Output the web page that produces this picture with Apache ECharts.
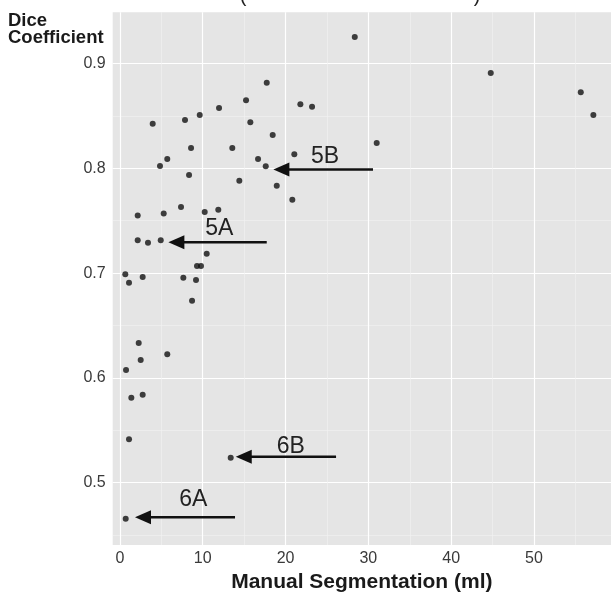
<!DOCTYPE html>
<html>
<head>
<meta charset="utf-8">
<script src="https://cdn.jsdelivr.net/npm/echarts@6/dist/echarts.min.js"></script>
<style>
  html, body { margin: 0; padding: 0; background: #fff; }
  #chart { width: 611px; height: 596px; }
</style>
</head>
<body>
<div id="chart"></div>
<script>
// volumes (ml) from manual segmentation, and the dice coefficient for each
const volume = [
  17.73, 15.23, 11.97, 9.64, 7.86, 3.96, 15.75, 18.45, 8.59, 13.57,
  5.72, 4.84, 16.68, 17.61, 21.06, 8.35, 14.42, 18.94, 20.82, 2.15,
  5.29, 7.38, 10.24, 11.88, 2.15, 3.39, 4.93, 10.48, 28.36, 21.79,
  23.2, 31.01, 44.78, 55.65, 57.17, 9.31, 9.79, 0.65, 1.1, 2.75,
  7.66, 9.19, 8.71, 2.27, 5.72, 2.51, 0.74, 1.38, 2.75, 1.1,
  13.38, 0.7
];
const dice = [
  0.8817, 0.8649, 0.8575, 0.8509, 0.8461, 0.8426, 0.8439, 0.8318, 0.8194, 0.8194,
  0.8089, 0.8022, 0.8089, 0.8019, 0.8134, 0.7936, 0.7882, 0.7834, 0.770, 0.7551,
  0.757, 0.7631, 0.7583, 0.7605, 0.7313, 0.729, 0.7313, 0.7185, 0.9253, 0.8611,
  0.8588, 0.8241, 0.8909, 0.8725, 0.8509, 0.7068, 0.7068, 0.6989, 0.6908, 0.6963,
  0.6956, 0.6934, 0.6737, 0.6333, 0.6225, 0.6171, 0.6075, 0.5811, 0.584, 0.5414,
  0.5239, 0.4657
];

// annotated cases
const arrowLabel = ["5B", "5A", "6B", "6A"];
const arrowTail = [30.56, 17.73, 26.1, 13.9];
const arrowTip = [18.53, 5.85, 13.99, 1.82];
const arrowY = [0.799, 0.7294, 0.5248, 0.467];
const labelX = [24.77, 12.0, 20.63, 8.86];
const labelY = [0.8111, 0.7427, 0.5344, 0.4835];

const xTicks = [0, 10, 20, 30, 40, 50];
const xMinor = [5, 15, 25, 35, 45, 55];
const yTicks = [0.5, 0.6, 0.7, 0.8, 0.9];
const yMinor = [0.45, 0.55, 0.65, 0.75, 0.85];

const FONT = "Liberation Sans, Arial, sans-serif";
const xRange = [-0.87, 59.3];
const yRange = [0.4406, 0.9489];

let myChart = echarts.init(document.getElementById("chart"));

const points = volume.map((v, i) => [v, dice[i]]);
const arrows = arrowLabel.map((l, i) => [arrowTail[i], arrowTip[i], arrowY[i], labelX[i], labelY[i]]);

function axisPair(ticks, minor, range, isX) {
  const base = {
    type: "value",
    min: range[0],
    max: range[1],
    axisLine: { show: false },
  };
  return [
    Object.assign({}, base, {
      axisTick: { show: false, customValues: ticks },
      axisLabel: {
        customValues: ticks,
        color: "#3a3a3a",
        fontFamily: FONT,
        fontSize: 16,
        margin: isX ? 6 : 7,
        formatter: (v) => (isX ? String(v) : v.toFixed(1)),
      },
      splitLine: { show: true, lineStyle: { color: "#ffffff", width: 1.2 } },
    }),
    Object.assign({}, base, {
      axisTick: { show: false, customValues: minor },
      axisLabel: { show: false },
      splitLine: { show: true, lineStyle: { color: "#f2f2f2", width: 0.6 } },
    }),
  ];
}

const xAxes = axisPair(xTicks, xMinor, xRange, true);
xAxes[0].name = "Manual Segmentation (ml)";
xAxes[0].nameLocation = "middle";
xAxes[0].nameGap = 25;
xAxes[0].nameTextStyle = { color: "#1a1a1a", fontFamily: FONT, fontSize: 21, fontWeight: "bold" };

myChart.setOption({
  animation: false,
  grid: {
    left: 112.7,
    right: 0,
    top: 12.3,
    bottom: 51,
    outerBoundsMode: "none",
    show: true,
    backgroundColor: "#e5e5e5",
    borderWidth: 0,
  },
  xAxis: xAxes,
  yAxis: axisPair(yTicks, yMinor, yRange, false),
  graphic: [
    {
      type: "text",
      left: 8,
      top: 11,
      style: {
        text: "Dice\nCoefficient",
        font: "bold 18.5px " + FONT,
        lineHeight: 17,
        fill: "#1a1a1a",
      },
    },
    // bits of the cut-off title above the panel
    { type: "text", x: 243, y: 6, style: { text: "(", font: "20px " + FONT, fill: "#222", align: "center", verticalAlign: "bottom" } },
    { type: "text", x: 477, y: 6, style: { text: ")", font: "20px " + FONT, fill: "#222", align: "center", verticalAlign: "bottom" } },
  ],
  series: [
    {
      type: "scatter",
      xAxisIndex: 0,
      yAxisIndex: 0,
      symbol: "circle",
      symbolSize: 6,
      itemStyle: { color: "#111" },
      data: points,
      z: 3,
    },
    {
      type: "custom",
      xAxisIndex: 0,
      yAxisIndex: 0,
      data: arrows,
      z: 4,
      renderItem(params, api) {
        const tail = api.coord([api.value(0), api.value(2)]);
        const tip = api.coord([api.value(1), api.value(2)]);
        const lab = api.coord([api.value(3), api.value(4)]);
        const head = 16;
        const half = 7;
        return {
          type: "group",
          children: [
            {
              type: "line",
              shape: { x1: tail[0], y1: tail[1], x2: tip[0] + head - 2, y2: tip[1] },
              style: { stroke: "#111", lineWidth: 2.5 },
            },
            {
              type: "polygon",
              shape: { points: [[tip[0], tip[1]], [tip[0] + head, tip[1] - half], [tip[0] + head, tip[1] + half]] },
              style: { fill: "#111" },
            },
            {
              type: "text",
              x: lab[0],
              y: lab[1],
              style: {
                text: arrowLabel[params.dataIndex],
                font: "23px " + FONT,
                fill: "#222",
                align: "center",
                verticalAlign: "middle",
              },
            },
          ],
        };
      },
    },
  ],
});
</script>
</body>
</html>
